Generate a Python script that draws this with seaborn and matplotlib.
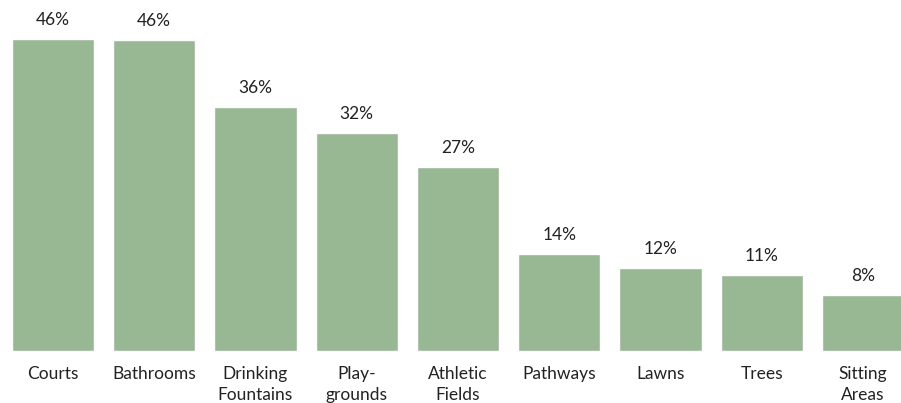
import matplotlib
matplotlib.use("Agg")
import matplotlib.pyplot as plt
import seaborn as sns
import pandas as pd

categories = ["Courts", "Bathrooms", "Drinking\nFountains", "Play-\ngrounds", "Athletic\nFields",
              "Pathways", "Lawns", "Trees", "Sitting\nAreas"]
values = [46.0, 45.8, 36.0, 32.2, 27.1, 14.3, 12.2, 11.2, 8.3]
labels = ["46%", "46%", "36%", "32%", "27%", "14%", "12%", "11%", "8%"]

sns.set_style("white")
plt.rcParams['font.family'] = ['Lato', 'DejaVu Sans']

df = pd.DataFrame({"cat": categories, "val": values})

fig = plt.figure(figsize=(9.01, 4.03), dpi=100)
ax = fig.add_axes([0, 52/403, 1, 351/403])
sns.barplot(data=df, x="cat", y="val", color="#97b893", saturation=1, width=0.81, ax=ax)

for i, (v, lab) in enumerate(zip(values, labels)):
    ax.annotate(lab, (i, v), xytext=(0, 8), textcoords="offset points",
                ha="center", va="bottom", fontsize=12.5, color="#222222")

ax.set_xlim(-53/101.25, (901-53)/101.25)
ax.set_ylim(0, 351/6.78)
ax.set_xlabel("")
ax.set_ylabel("")
ax.set_yticks([])
ax.tick_params(axis="x", length=0, pad=11, labelsize=12.5, labelcolor="#222222")
for t in ax.get_xticklabels():
    t.set_linespacing(1.35)
for s in ax.spines.values():
    s.set_visible(False)

fig.savefig("out.png", dpi=100)
